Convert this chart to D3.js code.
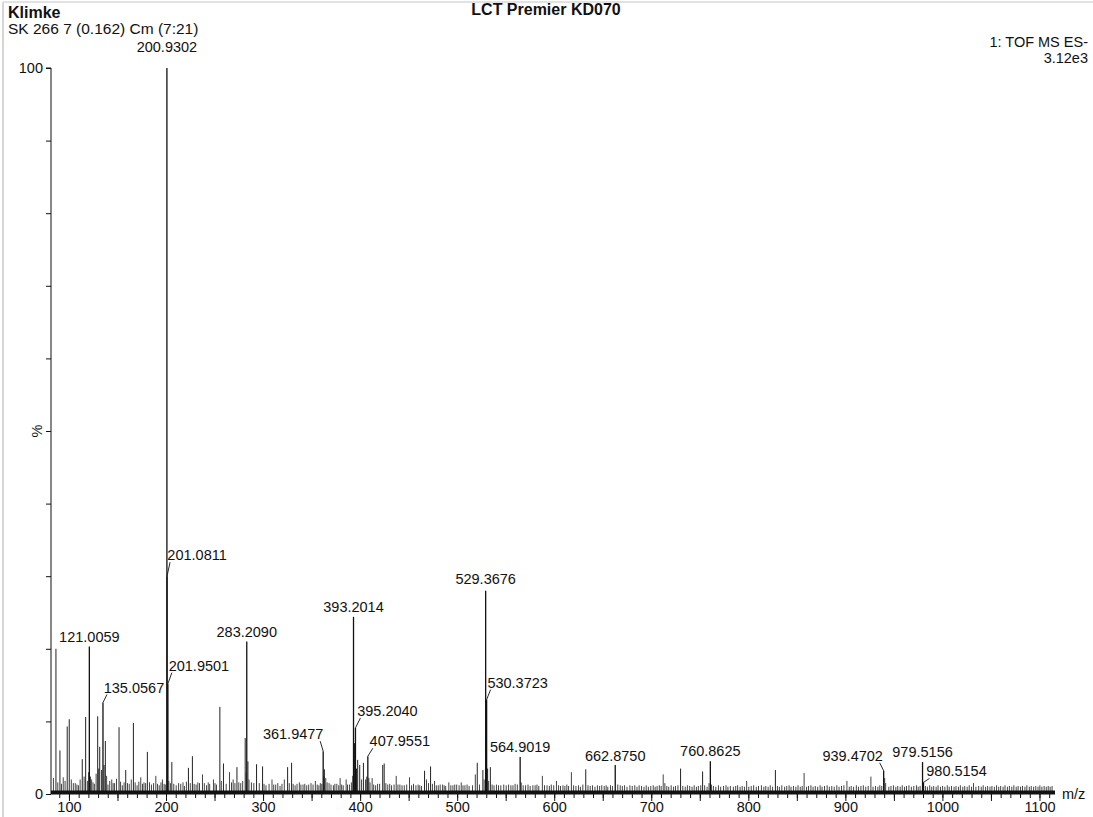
<!DOCTYPE html>
<html>
<head>
<meta charset="utf-8">
<script src="https://cdn.jsdelivr.net/npm/d3@7"></script>
<style>
  html, body { margin: 0; padding: 0; background: #fff; }
  svg { display: block; font-family: "Liberation Sans", Arial, sans-serif; }
</style>
</head>
<body>
<svg id="chart" width="1093" height="817"></svg>
<script>
// ---------------- data ----------------
const titleLeft = "Klimke";
const subtitle = "SK 266 7 (0.162) Cm (7:21)";
const titleCenter = "LCT Premier KD070";
const infoRight1 = "1: TOF MS ES-";
const infoRight2 = "3.12e3";
const xAxisLabel = "m/z";
const yAxisLabel = "%";

// labelled peaks: m/z and relative intensity (%)
const labelMz  = [121.0059, 135.0567, 200.9302, 201.0811, 201.9501, 283.2090, 361.9477, 393.2014, 395.2040, 407.9551, 529.3676, 530.3723, 564.9019, 662.8750, 760.8625, 939.4702, 979.5156, 980.5154];
const labelInt = [20.3,     12.6,     100,      30.0,     15.2,     21.0,     5.9,      24.4,     9.1,      5.2,      28.0,     13.0,     5.1,      4.0,      4.5,      3.2,      4.4,      1.6];
// label placement (layout only): horizontal offset of label centre, vertical offset of baseline from peak top
const labelDx  = [0, 31, 0, 30, 31, 0, -30, 0, 32, 32, 0, 31, 0, 0, 0, -31, 0, 33];
const labelDy  = [-5, -10, -16, -16, -13, -5, -12, -5, -12, -10, -7, -12, -5, -4, -5, -10, -5, -6];

// other (unlabelled) peaks: [m/z, intensity %]
const minorPeaks = [
  [84.0, 2.2], [86.6, 20.0], [88.5, 1.6], [90.7, 6.0], [92.3, 1.4], [94.1, 2.3], [96.0, 1.8], [98.2, 9.3], [100.3, 10.3], [102.4, 2.0],
  [104.5, 1.5], [106.5, 1.5], [108.2, 1.3], [109.8, 1.2], [111.5, 2.0], [113.7, 4.8], [115.6, 2.4], [117.2, 10.6], [119.0, 1.8], [120.2, 3.0],
  [122.2, 2.4], [123.4, 2.0], [124.8, 1.6], [126.2, 1.4], [128.0, 2.8], [129.6, 10.7], [130.7, 3.5], [131.7, 6.5], [133.7, 3.3], [136.2, 4.0],
  [137.5, 7.3], [138.8, 2.5], [140.2, 1.3], [142.0, 1.8], [144.1, 2.0], [145.5, 1.5], [147.0, 1.5], [149.0, 2.1], [151.6, 9.2], [153.2, 1.7],
  [155.0, 1.2], [156.8, 1.6], [158.5, 3.3], [160.3, 1.5], [162.1, 1.4], [164.2, 2.0], [166.4, 9.8], [168.2, 1.6], [170.2, 1.2], [172.0, 1.7],
  [174.0, 2.3], [175.8, 1.4], [177.3, 1.6], [179.0, 1.5], [180.8, 5.8], [183.0, 1.6], [185.0, 1.3], [187.2, 1.5], [189.5, 2.5], [191.3, 1.4],
  [193.0, 1.2], [194.8, 1.6], [196.3, 2.0], [198.0, 1.4], [199.2, 1.3], [202.9, 1.8], [204.5, 1.5], [206.0, 4.4], [208.0, 1.4], [210.5, 1.2],
  [213.0, 1.5], [215.2, 1.4], [217.5, 1.6], [219.0, 1.1], [221.0, 1.7], [223.1, 3.6], [225.0, 1.5], [227.2, 5.2], [229.0, 1.4], [231.0, 1.3],
  [232.8, 1.6], [234.5, 1.5], [237.6, 2.7], [239.5, 1.5], [241.8, 1.2], [243.5, 1.6], [245.0, 1.4], [248.9, 2.0], [250.5, 1.5], [252.0, 1.3],
  [255.5, 12.0], [257.0, 1.8], [259.2, 4.2], [262.0, 1.4], [265.4, 3.0], [267.5, 1.6], [269.2, 2.0], [271.0, 1.5], [273.1, 3.7], [275.0, 1.6],
  [277.0, 1.5], [279.0, 1.8], [281.6, 7.7], [282.4, 3.0], [284.4, 4.5], [285.5, 2.0], [288.0, 1.6], [290.5, 1.5], [293.3, 4.1], [296.1, 1.5],
  [299.5, 3.8], [301.0, 1.4], [303.0, 1.2], [306.2, 1.4], [309.2, 2.0], [311.0, 1.3], [313.0, 1.3], [315.2, 1.5], [317.5, 1.1], [319.5, 1.4],
  [321.9, 2.0], [325.3, 3.7], [327.0, 1.5], [329.4, 4.3], [331.0, 1.4], [333.0, 1.2], [335.0, 1.4], [337.4, 1.6], [339.0, 1.3], [341.2, 1.3],
  [343.0, 1.4], [345.0, 1.2], [347.0, 1.3], [349.4, 1.5], [351.5, 1.3], [353.9, 1.8], [355.8, 1.3], [357.5, 1.2], [359.0, 1.5], [360.5, 1.4],
  [362.6, 2.5], [363.2, 3.4], [364.6, 2.2], [366.0, 1.6], [368.0, 1.5], [370.0, 1.3], [372.5, 1.2], [374.0, 1.4], [376.0, 1.4], [378.0, 1.2],
  [379.4, 2.2], [381.0, 1.3], [382.6, 1.2], [385.6, 2.0], [387.0, 1.3], [389.0, 1.3], [391.0, 1.6], [392.4, 2.5], [394.2, 7.0], [396.3, 3.5],
  [397.5, 4.7], [399.6, 4.0], [401.5, 2.0], [403.4, 4.3], [405.6, 2.0], [406.8, 2.4], [409.0, 2.2], [410.2, 1.6], [412.4, 2.2], [414.0, 1.3],
  [416.0, 1.2], [418.0, 1.4], [420.1, 1.4], [423.3, 4.0], [424.8, 4.2], [426.5, 1.5], [428.5, 1.3], [430.5, 1.4], [432.4, 1.2], [435.0, 1.3],
  [437.2, 2.5], [439.0, 1.3], [441.0, 1.3], [443.2, 1.2], [445.5, 1.2], [448.0, 1.3], [450.9, 2.3], [453.0, 1.2], [455.0, 1.4], [457.5, 1.2],
  [459.8, 1.3], [461.5, 1.2], [463.3, 1.1], [466.4, 3.2], [468.4, 2.0], [470.5, 1.5], [472.6, 3.8], [474.5, 1.4], [476.7, 1.8], [478.5, 1.2],
  [480.5, 1.2], [482.5, 1.3], [485.0, 1.3], [486.6, 1.2], [488.2, 1.1], [491.4, 1.6], [493.5, 1.2], [495.6, 1.2], [497.5, 1.3], [499.5, 1.3],
  [502.0, 1.2], [504.2, 1.6], [506.0, 1.2], [508.0, 1.2], [510.2, 1.3], [512.3, 1.1], [515.8, 1.2], [518.7, 2.7], [520.7, 4.3], [523.0, 1.3],
  [526.5, 3.3], [527.8, 2.0], [531.4, 3.5], [532.4, 1.8], [534.2, 3.7], [536.0, 1.3], [538.0, 1.2], [540.5, 1.3], [542.6, 1.2], [545.0, 1.2],
  [548.0, 1.3], [550.5, 1.2], [553.0, 1.3], [555.4, 1.2], [557.5, 1.2], [559.7, 1.4], [562.0, 1.3], [566.0, 1.6], [568.0, 1.2], [570.5, 1.2],
  [573.0, 1.3], [575.2, 1.1], [578.0, 1.2], [580.3, 1.2], [582.2, 1.3], [584.1, 1.1], [587.8, 2.5], [590.0, 1.2], [592.6, 1.2], [595.0, 1.1],
  [597.0, 1.3], [599.5, 1.2], [602.3, 1.8], [604.5, 1.2], [606.5, 1.1], [609.0, 1.2], [611.0, 1.1], [613.0, 1.3], [614.8, 1.1], [617.7, 3.0],
  [620.0, 1.2], [622.4, 1.1], [625.0, 1.2], [627.0, 1.0], [629.5, 1.3], [632.5, 3.4], [634.8, 1.2], [637.1, 1.1], [639.5, 1.2], [642.0, 1.0],
  [644.5, 1.2], [646.8, 1.1], [649.0, 1.2], [651.5, 1.1], [653.5, 1.2], [655.2, 1.0], [658.0, 1.2], [660.0, 1.1], [665.5, 1.3], [668.0, 1.2],
  [670.2, 1.1], [672.5, 1.2], [675.0, 1.0], [678.0, 1.2], [680.4, 1.1], [683.0, 1.2], [685.3, 1.0], [687.5, 1.2], [690.0, 1.1], [692.5, 1.0],
  [694.8, 1.2], [697.0, 1.0], [699.5, 1.1], [702.0, 1.2], [704.0, 1.0], [706.0, 1.1], [708.3, 1.2], [710.2, 1.1], [712.3, 2.7], [714.0, 1.5],
  [716.0, 1.1], [718.0, 1.0], [720.5, 1.2], [723.0, 1.0], [725.0, 1.1], [727.5, 1.2], [730.2, 3.5], [732.5, 1.1], [735.0, 1.0], [737.2, 1.2],
  [739.6, 1.1], [742.0, 1.0], [744.2, 1.2], [746.5, 1.0], [748.5, 1.1], [751.0, 1.2], [752.9, 3.1], [755.0, 1.2], [757.5, 1.0], [759.5, 1.5],
  [762.0, 1.3], [764.0, 1.1], [766.5, 1.0], [769.2, 1.2], [771.5, 1.0], [774.5, 1.1], [777.0, 1.2], [779.0, 1.0], [781.5, 1.1], [784.6, 1.0],
  [787.0, 1.1], [789.0, 1.2], [791.5, 1.0], [793.7, 1.1], [796.0, 1.0], [798.3, 1.8], [800.5, 1.0], [803.0, 1.1], [805.5, 1.2], [808.2, 1.0],
  [810.5, 1.1], [813.5, 1.2], [816.0, 1.0], [818.0, 1.1], [820.4, 1.0], [822.6, 1.2], [825.0, 1.0], [827.9, 3.3], [830.0, 1.1], [832.0, 1.0],
  [834.5, 1.2], [837.4, 1.0], [839.6, 1.1], [842.0, 1.2], [844.0, 1.0], [846.5, 1.1], [849.0, 1.0], [851.2, 1.2], [853.5, 1.0], [855.5, 1.1],
  [857.5, 2.9], [860.0, 1.0], [862.0, 1.1], [864.5, 1.2], [866.7, 1.0], [869.0, 1.1], [871.5, 1.0], [874.0, 1.2], [876.0, 1.0], [878.5, 1.1],
  [881.2, 1.2], [883.5, 1.0], [886.0, 1.1], [888.5, 1.0], [891.2, 1.2], [893.5, 1.0], [896.0, 1.1], [898.5, 1.2], [901.6, 1.8], [904.0, 1.0],
  [906.0, 1.1], [908.5, 1.0], [911.3, 1.2], [913.5, 1.0], [916.0, 1.1], [918.5, 1.2], [921.0, 1.0], [923.5, 1.1], [926.3, 2.4], [928.5, 1.0],
  [931.0, 1.1], [933.5, 1.0], [935.5, 1.2], [937.5, 1.1], [940.5, 2.2], [941.5, 1.5], [944.8, 1.0], [947.0, 1.1], [949.5, 1.2], [952.0, 1.0],
  [954.0, 1.1], [956.5, 1.0], [958.6, 1.2], [961.0, 1.0], [963.0, 1.1], [965.5, 1.2], [968.0, 1.0], [970.5, 1.1], [973.2, 1.2], [975.0, 1.0],
  [977.0, 1.1], [982.5, 1.1], [984.5, 1.0], [986.9, 1.2], [989.0, 1.0], [991.0, 1.1], [993.5, 1.0], [995.5, 1.2], [998.0, 1.0], [1000.2, 1.1],
  [1002.5, 1.0], [1005.0, 1.2], [1007.0, 1.0], [1009.4, 1.1], [1012.0, 1.0], [1014.0, 1.1], [1016.5, 1.0], [1018.5, 1.2], [1021.0, 1.0], [1023.0, 1.1],
  [1025.5, 1.0], [1027.6, 1.2], [1030.0, 1.0], [1032.0, 1.5], [1034.5, 1.0], [1037.4, 1.1], [1040.0, 1.0], [1042.0, 1.2], [1044.5, 1.0], [1046.6, 1.1],
  [1049.0, 1.0], [1051.0, 1.1], [1053.5, 1.0], [1055.8, 1.2], [1058.0, 1.0], [1060.0, 1.1], [1062.5, 1.0], [1064.5, 1.2], [1067.0, 1.0], [1069.0, 1.1],
  [1071.5, 1.0], [1073.6, 1.2], [1076.0, 1.0], [1078.0, 1.1], [1080.5, 1.0], [1082.5, 1.1], [1085.0, 1.0], [1087.0, 1.2], [1089.5, 1.0], [1091.5, 1.1],
  [1094.0, 1.0], [1096.2, 1.1], [1098.5, 1.0], [1100.4, 1.2], [1102.5, 1.0], [1104.8, 1.1], [1107.0, 1.0], [1109.0, 1.1], [1111.0, 1.0], [1113.0, 1.1]
];

const xTickLabels = [100, 200, 300, 400, 500, 600, 700, 800, 900, 1000, 1100];
const yTickValues = [0, 10, 20, 30, 40, 50, 60, 70, 80, 90, 100];
const yTickLabels = ["0", "", "", "", "", "", "", "", "", "", "100"];

// ---------------- drawing ----------------
const svg = d3.select("#chart");
const x = d3.scaleLinear().domain([81.5, 1116]).range([51, 1055]);
const y = d3.scaleLinear().domain([0, 100]).range([794, 68]);

const FONT = "14.5px";
const ink = "#111";

// faint scan frame
svg.append("line").attr("x1", 3).attr("x2", 3).attr("y1", 2).attr("y2", 817).attr("stroke", "#c8c8c8").attr("stroke-width", 1.5);
svg.append("line").attr("x1", 3).attr("x2", 1093).attr("y1", 2).attr("y2", 2).attr("stroke", "#d8d8d8").attr("stroke-width", 1.5);

// header text
svg.append("text").attr("x", 8).attr("y", 18).attr("font-size", "16px").attr("font-weight", "bold").attr("fill", ink).text(titleLeft);
svg.append("text").attr("x", 8).attr("y", 34).attr("font-size", "15.5px").attr("fill", ink).text(subtitle);
svg.append("text").attr("x", 546).attr("y", 15).attr("text-anchor", "middle").attr("font-size", "16px").attr("font-weight", "bold").attr("fill", ink).text(titleCenter);
svg.append("text").attr("x", 1088).attr("y", 47).attr("text-anchor", "end").attr("font-size", FONT).attr("fill", ink).text(infoRight1);
svg.append("text").attr("x", 1088).attr("y", 63).attr("text-anchor", "end").attr("font-size", FONT).attr("fill", ink).text(infoRight2);

// unlabelled peaks
svg.append("g").selectAll("line").data(minorPeaks).join("line")
  .attr("x1", d => x(d[0])).attr("x2", d => x(d[0]))
  .attr("y1", y(0)).attr("y2", d => y(d[1]))
  .attr("stroke", d => d[1] > 3 ? "#222" : "#444")
  .attr("stroke-width", 1);

// labelled peaks
const labelled = labelMz.map((m, i) => ({ mz: m, v: labelInt[i], dx: labelDx[i], dy: labelDy[i] }));
svg.append("g").selectAll("line").data(labelled).join("line")
  .attr("x1", d => x(d.mz)).attr("x2", d => x(d.mz))
  .attr("y1", y(0)).attr("y2", d => y(d.v))
  .attr("stroke", ink).attr("stroke-width", 1.3);

// labels
const lg = svg.append("g");
labelled.forEach(d => {
  const px = x(d.mz), py = y(d.v);
  const tx = px + d.dx, ty = py + d.dy;
  lg.append("text").attr("x", tx).attr("y", ty).attr("text-anchor", "middle")
    .attr("font-size", FONT).attr("fill", ink).text(d3.format(".4f")(d.mz));
  if (d.dx !== 0) {
    const ex = d.dx > 0 ? tx - 27 : tx + 27;
    lg.append("line").attr("x1", px).attr("y1", py).attr("x2", ex).attr("y2", ty + 2)
      .attr("stroke", ink).attr("stroke-width", 0.9);
  }
});

// x axis: thick baseline (the dense noise floor) and ticks
svg.append("line").attr("x1", 51).attr("x2", 1055).attr("y1", y(0) - 1.5).attr("y2", y(0) - 1.5)
  .attr("stroke", ink).attr("stroke-width", 4);

const minorAxis = d3.axisBottom(x).tickValues(d3.range(90, 1111, 10)).tickSize(4).tickFormat("");
const majorAxis = d3.axisBottom(x).tickValues(d3.range(100, 1111, 50)).tickSize(7)
  .tickPadding(1).tickFormat(d => xTickLabels.includes(d) ? String(d) : "");
const gx1 = svg.append("g").attr("transform", `translate(0,${y(0)})`).call(minorAxis);
const gx2 = svg.append("g").attr("transform", `translate(0,${y(0)})`).call(majorAxis);
[gx1, gx2].forEach(g => {
  g.select(".domain").remove();
  g.selectAll(".tick line").attr("stroke", ink);
  g.selectAll("text").attr("font-size", FONT).attr("fill", ink).attr("font-family", "Liberation Sans, Arial, sans-serif");
});

svg.append("text").attr("x", 1062).attr("y", 799).attr("font-size", FONT).attr("fill", ink).text(xAxisLabel);

// y axis
const yAxis = d3.axisLeft(y).tickValues(yTickValues).tickSize(5).tickPadding(3)
  .tickFormat((d, i) => yTickLabels[i]);
const gy = svg.append("g").attr("transform", "translate(51,0)").call(yAxis);
gy.select(".domain").attr("d", `M-5,${y(100)}H0V${y(0)}`).attr("stroke", ink);
gy.selectAll(".tick line").attr("stroke", ink);
gy.selectAll("text").attr("font-size", FONT).attr("fill", ink).attr("font-family", "Liberation Sans, Arial, sans-serif");

svg.append("text").attr("transform", `translate(42,${y(50)}) rotate(-90)`)
  .attr("text-anchor", "middle").attr("font-size", FONT).attr("fill", ink).text(yAxisLabel);
</script>
</body>
</html>
